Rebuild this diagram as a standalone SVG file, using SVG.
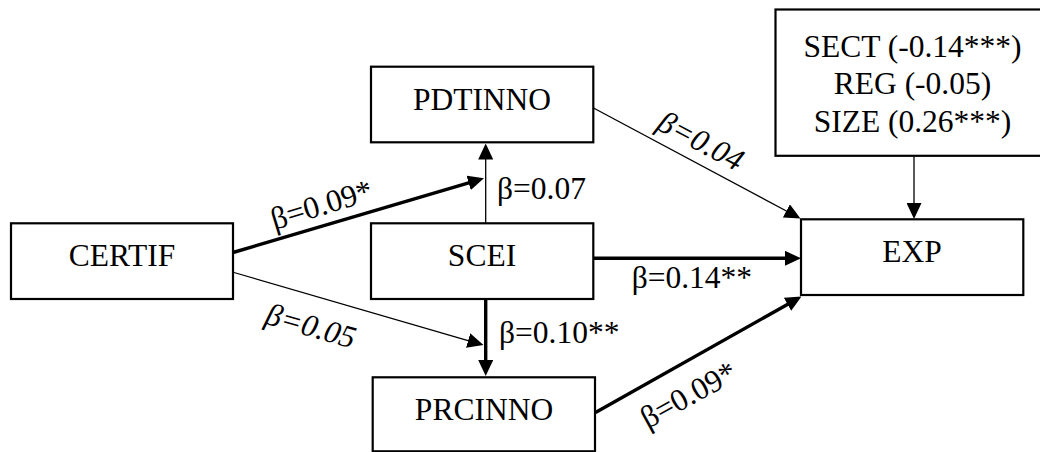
<svg xmlns="http://www.w3.org/2000/svg" width="1040" height="452" viewBox="0 0 1040 452">
<style>
.box{fill:#fff;stroke:#000;stroke-width:2.2}
text{font-family:'Liberation Serif','Times New Roman',serif;font-size:31.5px;fill:#000}
.m{text-anchor:middle}
.i{font-style:italic}
.thin{stroke:#000;stroke-width:1.3;fill:none}
.thick{stroke:#000;stroke-width:3.4;fill:none}
</style>
<defs>
<marker id="ah" markerUnits="userSpaceOnUse" markerWidth="16" markerHeight="15" refX="8" refY="7.5" orient="auto">
<path d="M0,0 L16,7.5 L0,15 Z" fill="#000"/>
</marker>
</defs>
<rect width="1040" height="452" fill="#fff"/>
<g id="connectors">
<line class="thick" x1="233" y1="252.5" x2="476.3" y2="180.6" marker-end="url(#ah)"/>
<line class="thin" x1="234" y1="272.5" x2="475.8" y2="342.8" marker-end="url(#ah)"/>
<line class="thin" x1="485.7" y1="223" x2="485.7" y2="151.5" marker-end="url(#ah)"/>
<line class="thick" x1="485.7" y1="299" x2="485.7" y2="368" marker-end="url(#ah)"/>
<line class="thin" x1="593.5" y1="108" x2="793.4" y2="214.7" marker-end="url(#ah)"/>
<line class="thick" x1="593.5" y1="258.3" x2="793" y2="258.3" marker-end="url(#ah)"/>
<line class="thick" x1="595.5" y1="412.5" x2="794.5" y2="300.4" marker-end="url(#ah)"/>
<line class="thin" x1="914" y1="156" x2="914" y2="211" marker-end="url(#ah)"/>
<text class="m" transform="translate(324.6,214.6) rotate(-17)">β=0.09*</text>
<text class="m i" transform="translate(308,336) rotate(16)">β=0.05</text>
<text x="497" y="199">β=0.07</text>
<text x="499" y="343">β=0.10**</text>
<text class="m i" transform="translate(696,150) rotate(28)">β=0.04</text>
<text x="631.7" y="288">β=0.14**</text>
<text class="m" transform="translate(693.5,404) rotate(-29)">β=0.09*</text>
</g>
<g id="CERTIF">
<rect class="box" x="11" y="223.3" width="222" height="75.7"/>
<text class="m" x="122" y="266">CERTIF</text>
</g>
<g id="PDTINNO">
<rect class="box" x="371" y="66.7" width="222.3" height="75.6"/>
<text class="m" x="482" y="110">PDTINNO</text>
</g>
<g id="SCEI">
<rect class="box" x="371" y="223.3" width="222.3" height="75.7"/>
<text class="m" x="482" y="266">SCEI</text>
</g>
<g id="PRCINNO">
<rect class="box" x="372.7" y="377.3" width="222.3" height="74"/>
<text class="m" x="484" y="420">PRCINNO</text>
</g>
<g id="EXP">
<rect class="box" x="801" y="219.3" width="222.3" height="75.7"/>
<text class="m" x="912" y="262">EXP</text>
</g>
<g id="controls">
<rect class="box" x="775.5" y="9.5" width="270" height="146.3"/>
<text class="m" x="912.5" y="57">SECT (-0.14***)</text>
<text class="m" x="912.5" y="94.3">REG (-0.05)</text>
<text class="m" x="912.5" y="131.7">SIZE (0.26***)</text>
</g>
</svg>
